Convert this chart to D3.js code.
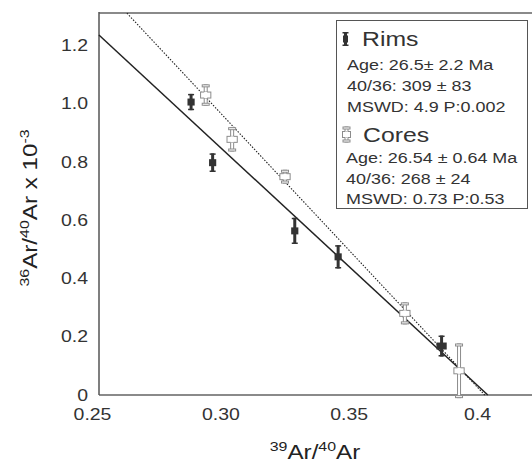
<!DOCTYPE html>
<html><head><meta charset="utf-8">
<script src="https://cdn.jsdelivr.net/npm/d3@7"></script>
<style>body{margin:0;background:#fff}svg{display:block}text{font-family:"Liberation Sans",Arial,sans-serif}</style>
</head><body><div id="chart"></div>
<script>
// ---- data ----
const rimsX   = [0.2886, 0.2970, 0.3290, 0.3459, 0.3862];
const rimsY   = [1.005, 0.797, 0.563, 0.474, 0.168];
const rimsXErr = [0.0014, 0.0014, 0.0014, 0.0014, 0.002];
const rimsYErr = [0.028, 0.032, 0.045, 0.040, 0.036];
const coresX  = [0.2943, 0.3046, 0.3252, 0.3719, 0.3930];
const coresY  = [1.029, 0.877, 0.749, 0.280, 0.083];
const coresXErr = [0.002, 0.002, 0.002, 0.002, 0.002];
const coresYErr = [0.035, 0.040, 0.022, 0.036, 0.092];
const rimsLine  = [[0.2527, 1.235], [0.4042, 0]];
const coresLine = [[0.2636, 1.310], [0.4030, 0]];
const xTicks = [0.25, 0.30, 0.35, 0.40];
const xTickLabels = ["0.25", "0.30", "0.35", "0.4"];
const yTicks = [0, 0.2, 0.4, 0.6, 0.8, 1.0, 1.2];
const yTickLabels = ["0", "0.2", "0.4", "0.6", "0.8", "1.0", "1.2"];
const legendRims = ["Age: 26.5\u00b1 2.2 Ma", "40/36: 309 \u00b1 83", "MSWD: 4.9 P:0.002"];
const legendCores = ["Age: 26.54 \u00b1 0.64 Ma", "40/36: 268 \u00b1 24", "MSWD: 0.73 P:0.53"];

const W = 532, H = 465;
const SX = 1.18; // horizontal text stretch seen in the reference
const plotLeft = 99, plotRight = 532, plotTop = 13, plotBottom = 395;
const x = d3.scaleLinear().domain([0.25, 0.40]).range([92, 477]);
const y = d3.scaleLinear().domain([0, 1.2]).range([395, 45.2]);

const svg = d3.select("#chart").append("svg").attr("width", W).attr("height", H);

function stext(parent, tx, ty, size, str, anchor, rot) {
  return parent.append("text")
    .attr("transform", `translate(${tx},${ty})${rot ? " rotate(" + rot + ")" : ""} scale(${SX},1)`)
    .attr("font-size", size).attr("fill", "#333").attr("text-anchor", anchor || "start")
    .text(str);
}

// frame lines
svg.append("line").attr("x1", plotLeft).attr("x2", plotRight).attr("y1", plotTop).attr("y2", plotTop)
  .attr("stroke", "#8a8a8a").attr("stroke-width", 2);
svg.append("line").attr("x1", plotLeft).attr("x2", plotRight).attr("y1", plotBottom).attr("y2", plotBottom)
  .attr("stroke", "#8a8a8a").attr("stroke-width", 2);
svg.append("line").attr("x1", plotLeft).attr("x2", plotLeft).attr("y1", plotTop - 1).attr("y2", plotBottom)
  .attr("stroke", "#555").attr("stroke-width", 1.5);

// axes
const xAxis = d3.axisBottom(x).tickValues(xTicks).tickSize(0).tickPadding(13)
  .tickFormat((d, i) => xTickLabels[i]);
const gx = svg.append("g").attr("transform", `translate(0,${plotBottom})`).call(xAxis);
gx.select(".domain").remove();
gx.selectAll("text").attr("font-size", 16.5).attr("fill", "#333")
  .style("font-family", '"Liberation Sans",Arial,sans-serif')
  .attr("transform", `scale(${SX},1)`);

const yAxis = d3.axisLeft(y).tickValues(yTicks).tickSize(0).tickPadding(11)
  .tickFormat((d, i) => yTickLabels[i]);
const gy = svg.append("g").attr("transform", `translate(${plotLeft},0)`).call(yAxis);
gy.select(".domain").remove();
gy.selectAll("text").attr("font-size", 16.5).attr("fill", "#333")
  .style("font-family", '"Liberation Sans",Arial,sans-serif')
  .attr("x", -11 / SX).attr("transform", `scale(${SX},1)`);

// axis titles
const xt = stext(svg, 315, 459, 20.5, null, "middle").attr("fill", "#222");
xt.append("tspan").attr("font-size", 13.5).attr("dy", -8).text("39");
xt.append("tspan").attr("dy", 8).text("Ar/");
xt.append("tspan").attr("font-size", 13.5).attr("dy", -8).text("40");
xt.append("tspan").attr("dy", 8).text("Ar");

const yt = stext(svg, 37, 208, 20.5, null, "middle", -90).attr("fill", "#222");
yt.append("tspan").attr("font-size", 13.5).attr("dy", -8).text("36");
yt.append("tspan").attr("dy", 8).text("Ar/");
yt.append("tspan").attr("font-size", 13.5).attr("dy", -8).text("40");
yt.append("tspan").attr("dy", 8).text("Ar x 10");
yt.append("tspan").attr("font-size", 13.5).attr("dy", -8).text("-3");

// regression lines
const lineGen = d3.line().x(d => x(d[0])).y(d => y(d[1]));
svg.append("path").attr("d", lineGen(coresLine)).attr("fill", "none").attr("stroke", "#222")
  .attr("stroke-width", 1.1).attr("stroke-dasharray", "1.5,1.5");
svg.append("path").attr("d", lineGen(rimsLine)).attr("fill", "none").attr("stroke", "#222")
  .attr("stroke-width", 1.5);

// markers
function rimMarker(g, cx, top, bot, hx) {
  g.append("line").attr("x1", cx).attr("x2", cx).attr("y1", top).attr("y2", bot)
    .attr("stroke", "#333").attr("stroke-width", 3);
  g.append("line").attr("x1", cx - 3).attr("x2", cx + 3).attr("y1", top + 0.75).attr("y2", top + 0.75)
    .attr("stroke", "#333").attr("stroke-width", 1.5);
  g.append("line").attr("x1", cx - 3).attr("x2", cx + 3).attr("y1", bot - 0.75).attr("y2", bot - 0.75)
    .attr("stroke", "#333").attr("stroke-width", 1.5);
  const cy = (top + bot) / 2;
  g.append("rect").attr("x", cx - hx).attr("y", cy - 3.5).attr("width", 2 * hx).attr("height", 7)
    .attr("fill", "#333");
}
function coreMarker(g, cx, top, bot, hx) {
  const st = "#8c8c8c";
  g.append("rect").attr("x", cx - 1.5).attr("y", top).attr("width", 3).attr("height", bot - top)
    .attr("fill", "#fff").attr("stroke", st).attr("stroke-width", 1);
  g.append("rect").attr("x", cx - 3.5).attr("y", top).attr("width", 7).attr("height", 2)
    .attr("fill", "#fff").attr("stroke", st).attr("stroke-width", 1);
  g.append("rect").attr("x", cx - 3.5).attr("y", bot - 2).attr("width", 7).attr("height", 2)
    .attr("fill", "#fff").attr("stroke", st).attr("stroke-width", 1);
  const cy = (top + bot) / 2;
  g.append("rect").attr("x", cx - hx).attr("y", cy - 3).attr("width", 2 * hx).attr("height", 6)
    .attr("fill", "#fff").attr("stroke", st).attr("stroke-width", 1);
  g.append("rect").attr("x", cx - 1.5).attr("y", cy - 3).attr("width", 3).attr("height", 6)
    .attr("fill", "#fff").attr("stroke", "none");
}
const gm = svg.append("g");
coresX.forEach((v, i) => {
  coreMarker(gm, x(v), y(coresY[i] + coresYErr[i]), y(coresY[i] - coresYErr[i]),
    x(v + coresXErr[i]) - x(v));
});
rimsX.forEach((v, i) => {
  rimMarker(gm, x(v), y(rimsY[i] + rimsYErr[i]), y(rimsY[i] - rimsYErr[i]),
    x(v + rimsXErr[i]) - x(v));
});

// legend
const lg = svg.append("g");
lg.append("rect").attr("x", 336.5).attr("y", 20.5).attr("width", 191).attr("height", 188)
  .attr("fill", "#fff").attr("stroke", "#555").attr("stroke-width", 1);
rimMarker(lg, 345.5, 32, 46, 2.5);
stext(lg, 362, 46, 21, "Rims");
legendRims.forEach((t, i) => stext(lg, 347, 70 + i * 21, 15.2, t));
coreMarker(lg, 346.5, 127, 142, 4);
stext(lg, 363, 142, 21, "Cores");
legendCores.forEach((t, i) => stext(lg, 346, 163 + i * 20.5, 15.2, t));
</script></body></html>
